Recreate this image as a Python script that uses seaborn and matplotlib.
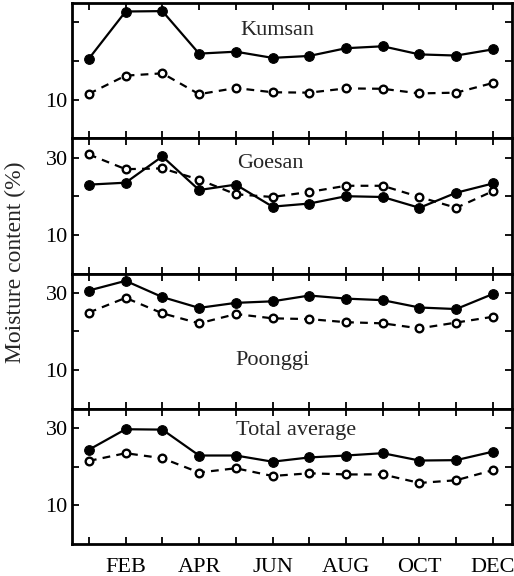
import numpy as np
import pandas as pd
import matplotlib
matplotlib.use("Agg")
import matplotlib.pyplot as plt
import seaborn as sns

months = list(range(1, 13))
month_labels = ["", "FEB", "", "APR", "", "JUN", "", "AUG", "", "OCT", "", "DEC"]
sites = ["Kumsan", "Goesan", "Poonggi", "Total average"]

kumsan_solid = [20.6, 32.8, 32.9, 21.9, 22.4, 20.8, 21.3, 23.3, 23.8, 21.7, 21.4, 23.0]
kumsan_dashed = [11.5, 16.2, 16.8, 11.4, 13.0, 11.9, 11.8, 12.9, 12.8, 11.6, 11.8, 14.3]
goesan_solid = [23.0, 23.5, 30.3, 21.6, 23.0, 17.3, 18.1, 20.0, 19.8, 17.0, 20.9, 23.3]
goesan_dashed = [30.8, 27.0, 27.2, 24.3, 20.5, 19.8, 21.1, 22.7, 22.7, 19.8, 17.0, 21.3]
poonggi_solid = [30.6, 33.1, 28.9, 26.1, 27.4, 27.8, 29.3, 28.5, 28.1, 26.2, 25.8, 29.7]
poonggi_dashed = [24.9, 28.7, 24.7, 22.1, 24.5, 23.4, 23.2, 22.4, 22.1, 20.8, 22.3, 23.8]
total_solid = [24.4, 29.7, 29.6, 22.9, 22.9, 21.3, 22.4, 22.9, 23.5, 21.6, 21.7, 23.9]
total_dashed = [21.5, 23.5, 22.2, 18.5, 19.6, 17.6, 18.3, 18.0, 18.0, 15.8, 16.5, 19.1]

solid_series = [kumsan_solid, goesan_solid, poonggi_solid, total_solid]
dashed_series = [kumsan_dashed, goesan_dashed, poonggi_dashed, total_dashed]
ytick_vals = [10, 20, 30]
ytick_labels = [["10", "", ""], ["10", "", "30"], ["10", "", "30"], ["10", "", "30"]]

sns.set_style("ticks")
plt.rcParams['font.family'] = ['Liberation Serif', 'DejaVu Serif']

fig = plt.figure(figsize=(5.14, 5.76), dpi=100)
left, right = 72 / 514, 512 / 514
top_px, bot_px = 3, 544
n = 4
h = (bot_px - top_px) / n
title_pos = [(0.466, 0.80), (0.45, 0.815), (0.455, 0.355), (0.51, 0.84)]

axes = []
for i in range(n):
    y0 = 1 - (top_px + (i + 1) * h) / 576
    ax = fig.add_axes([left, y0, right - left, h / 576])
    axes.append(ax)
    df = pd.DataFrame({"month": months, "solid": solid_series[i], "dashed": dashed_series[i]})
    sns.lineplot(data=df, x="month", y="solid", ax=ax, color="black", lw=1.6,
                 marker="o", markersize=7, markerfacecolor="black",
                 markeredgecolor="black")
    sns.lineplot(data=df, x="month", y="dashed", ax=ax, color="black", lw=1.6,
                 linestyle=(0, (3.5, 2.8)), marker="o", markersize=5.5,
                 markerfacecolor="white", markeredgecolor="black", markeredgewidth=1.7)
    ax.set_xlim(0.54, 12.52)
    ax.set_ylim(0, 35)
    ax.set_yticks(ytick_vals)
    ax.set_yticklabels(ytick_labels[i], fontsize=16)
    ax.set_xticks(months)
    ax.set_xticklabels([])
    ax.set_xlabel("")
    ax.set_ylabel("")
    ax.tick_params(direction="in", top=True, right=True, length=5, width=1.3,
                   colors="black", pad=3)
    for sp in ax.spines.values():
        sp.set_linewidth(2.0)
        sp.set_color("black")
    tx, ty = title_pos[i]
    ax.text(tx, ty, sites[i], transform=ax.transAxes, ha="center", va="center",
            fontsize=16)

axes[-1].set_xticks(months)
axes[-1].set_xticklabels(month_labels, fontsize=16)
axes[-1].tick_params(axis="x", pad=10)

fig.text(15 / 514, 1 - 262 / 576, "Moisture content (%)", rotation=90,
         ha="center", va="center", fontsize=17)

fig.savefig("out.png", dpi=100)
